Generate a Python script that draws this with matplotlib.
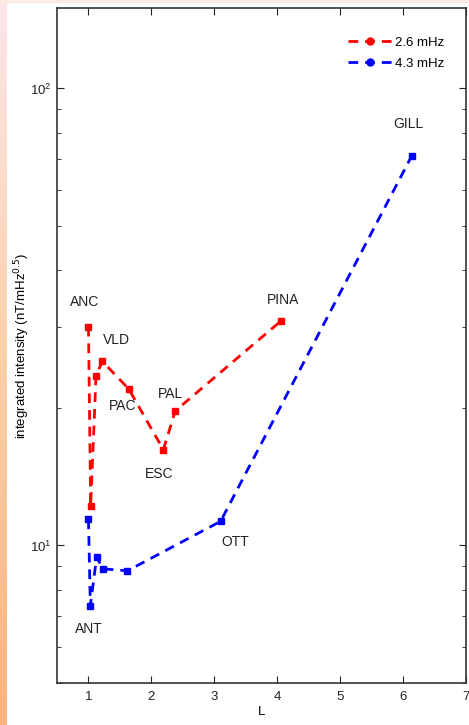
import numpy as np
import matplotlib
matplotlib.use("Agg")
import matplotlib.pyplot as plt
from matplotlib.lines import Line2D
from matplotlib.colors import LinearSegmentedColormap

# Data: 2.6 mHz series
L_26 = [1.00, 1.035, 1.12, 1.22, 1.64, 2.19, 2.38, 4.06]
I_26 = [30.1, 12.2, 23.5, 25.3, 22.0, 16.2, 19.7, 31.0]
# Data: 4.3 mHz series
L_43 = [1.00, 1.03, 1.13, 1.225, 1.62, 3.10, 6.14]
I_43 = [11.4, 7.38, 9.44, 8.89, 8.8, 11.29, 71.3]

station_names = ["ANC", "VLD", "PAC", "PAL", "ESC", "PINA", "GILL", "OTT", "ANT"]
station_L = [0.94, 1.44, 1.55, 2.31, 2.13, 4.09, 6.09, 3.33, 1.00]
station_I = [34.1, 28.2, 20.2, 21.5, 14.3, 34.4, 83.8, 10.2, 6.58]

legend_labels = ["2.6 mHz", "4.3 mHz"]

plt.rcParams['font.family'] = ['Liberation Sans', 'DejaVu Sans']

fig = plt.figure(figsize=(4.69, 7.25), dpi=100)
fig.patch.set_facecolor('white')

# decorative gradient strips
cmap = LinearSegmentedColormap.from_list('g', ['#fde6ea', '#fcd0a8', '#fbb27f'])
sax = fig.add_axes([0, 0, 6/469, 1])
sax.imshow(np.linspace(0, 1, 256).reshape(-1, 1), aspect='auto', cmap=cmap)
sax.axis('off')
tax = fig.add_axes([0, 1-3/725, 1, 3/725])
tax.axis('off')
tax.add_patch(plt.Rectangle((0, 0), 1, 1, transform=tax.transAxes, color='#fbeadf'))

ax = fig.add_axes([57/469, 1-683/725, (466-57)/469, (683-8)/725])
ls = (0, (3.5, 2.5))
ax.plot(L_26, I_26, color='red', lw=2, linestyle=ls, marker='s', ms=4.5)
ax.plot(L_43, I_43, color='blue', lw=2, linestyle=ls, marker='s', ms=4.5)

for n, x, y in zip(station_names, station_L, station_I):
    ax.text(x, y, n, ha='center', va='center', fontsize=10, color='#222222')

ax.set_yscale('log')
ax.set_xlim(0.5, 7)
ax.set_ylim(5, 150)
ax.set_xticks([1, 2, 3, 4, 5, 6, 7])
ax.tick_params(which='both', direction='in', top=True, right=True, labelsize=9.5, colors='#222222')
ax.tick_params(which='major', length=5)
ax.tick_params(which='minor', length=3)
ax.tick_params(axis='x', pad=6)
ax.tick_params(axis='y', pad=4)
for s in ax.spines.values():
    s.set_linewidth(1.2)
    s.set_color('#333333')
ax.set_xlabel('L', fontsize=9.5, labelpad=2)
ax.set_ylabel('integrated intensity (nT/mHz$^{0.5}$)', fontsize=9.5)
ax.yaxis.set_label_coords(-0.06, 0.5)

handles = [Line2D([], [], color='red', lw=2, linestyle=ls, marker='o', ms=5),
           Line2D([], [], color='blue', lw=2, linestyle=ls, marker='o', ms=5)]
ax.legend(handles, legend_labels, loc='upper right', frameon=False, fontsize=9.5,
          handlelength=3.3, bbox_to_anchor=(0.975, 0.975), handletextpad=0.2, labelspacing=0.65)

fig.savefig('out.png', dpi=100)
